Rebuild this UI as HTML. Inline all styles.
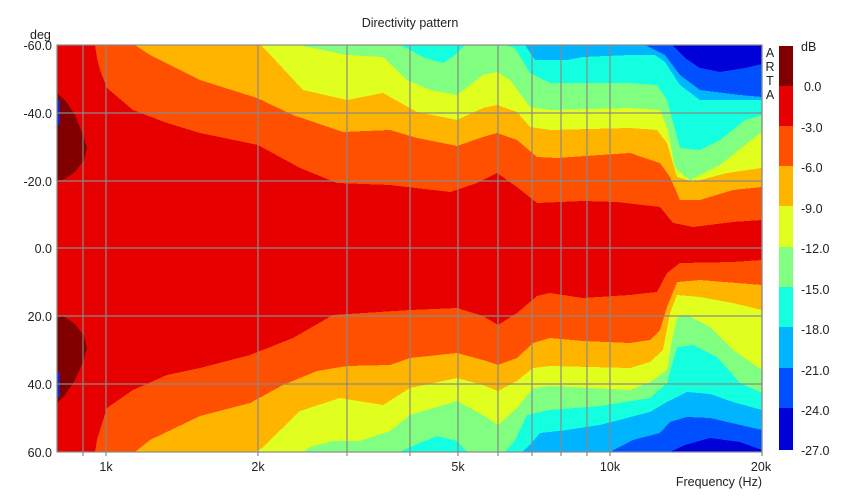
<!DOCTYPE html>
<html><head><meta charset="utf-8"><style>
body{margin:0;background:#fff;width:850px;height:497px;overflow:hidden}
text{font-family:"Liberation Sans",sans-serif;font-size:12.5px;fill:#222}
</style></head><body>
<svg width="850" height="497" xmlns="http://www.w3.org/2000/svg">
<defs><clipPath id="c"><rect x="57" y="45" width="705" height="407"/></clipPath></defs>
<g clip-path="url(#c)" shape-rendering="crispEdges">
<rect x="57" y="45" width="705" height="407" fill="#0000d8"/>
<polygon fill="#0050ff" points="57,45 672,45 685,58 700,68 720,72 745,68 762,64 762,450 740,442 710,438 685,445 670,452 57,452"/>
<polygon fill="#00b4ff" points="57,45 645,45 665,55 680,75 700,90 740,95 762,97 762,430 710,418 687,417 670,422 660,433 633,440 610,452 57,452"/>
<polygon fill="#14ffe0" points="57,45 525,45 535,60 567,60 583,57 630,55 655,55 665,62 680,85 700,100 762,100 762,410 733,402 710,394 687,392 667,402 650,412 600,425 567,430 540,433 530,445 522,452 57,452"/>
<polygon fill="#80ff80" points="57,45 400,45 410,50 425,58 443,63 455,55 465,45 505,45 515,48 530,73 550,83 630,83 657,85 667,100 680,148 700,150 720,140 745,120 762,115 762,393 740,383 717,357 693,345 677,347 667,383 650,398 600,406 550,410 527,415 515,440 505,452 467,452 457,441 437,436 410,447 400,452 57,452"/>
<polygon fill="#e0ff1e" points="57,45 300,45 307,47 347,55 383,57 407,80 430,90 457,95 483,75 497,72 510,80 530,107 550,110 630,108 660,110 668,130 675,168 690,180 720,165 745,145 762,132 762,370 733,350 710,327 687,315 677,318 672,340 667,370 650,382 630,390 550,386 533,388 517,408 498,425 483,415 457,401 410,415 390,431 360,441 333,441 310,447 303,452 57,452"/>
<polygon fill="#ffb400" points="57,45 260,45 263,47 303,90 347,100 383,93 417,112 457,120 483,108 497,105 517,112 530,127 550,130 630,128 657,130 667,143 677,177 693,182 727,173 762,168 762,310 733,303 700,297 677,295 670,313 663,350 650,362 630,368 550,366 533,368 517,381 498,391 483,385 457,378 410,388 383,405 340,398 300,411 262,448 255,452 57,452"/>
<polygon fill="#ff5000" points="57,45 135,45 150,55 200,80 257,98 293,115 343,132 390,130 417,138 457,146 483,137 497,133 517,140 537,157 557,158 600,155 630,153 660,163 670,177 680,200 700,200 733,190 762,187 762,285 700,280 677,282 667,307 660,330 650,340 630,343 583,341 550,338 533,343 517,358 498,365 483,360 457,353 410,358 390,365 347,366 317,371 283,385 250,403 200,416 150,440 135,452 57,452"/>
<polygon fill="#e60000" points="57,45 95,45 97,58 100,70 107,88 133,110 167,123 200,133 258,145 300,168 337,183 390,185 450,192 477,183 497,173 517,187 537,203 583,201 617,202 660,207 673,223 693,227 733,222 762,220 762,260 733,262 680,263 667,273 657,292 630,295 583,298 550,293 537,296 517,313 498,325 483,316 457,308 410,310 333,315 293,338 250,355 200,368 167,375 133,390 107,408 100,430 97,440 95,452 57,452"/>
<polygon fill="#800000" points="57,93 65,100 75,115 83,135 87,148 84,160 75,172 65,179 57,181"/>
<polygon fill="#800000" points="57,315 65,317 75,324 84,336 87,348 83,362 75,380 65,395 57,403"/>
<rect x="57" y="100" width="3" height="25" fill="#2020c0"/>
<rect x="57" y="372" width="3" height="25" fill="#2020c0"/>
</g>
<g stroke="#8a8a8a" stroke-width="1.2" fill="none">
<path d="M57,113H762M57,181H762M57,248H762M57,316H762M57,384H762"/>
<path d="M83,45V456M106,45V456M258,45V456M347,45V456M410,45V456M458,45V456M498,45V456M532,45V456M561,45V456M587,45V456M610,45V456M762,45V456"/>
<rect x="57" y="45" width="705" height="407"/>
</g>
<text x="410" y="27" text-anchor="middle">Directivity pattern</text>
<text x="30" y="39">deg</text>
<g text-anchor="end">
<text x="52" y="50">-60.0</text>
<text x="52" y="118">-40.0</text>
<text x="52" y="186">-20.0</text>
<text x="52" y="253">0.0</text>
<text x="52" y="321">20.0</text>
<text x="52" y="389">40.0</text>
<text x="52" y="457">60.0</text>
</g>
<g text-anchor="middle">
<text x="106" y="471">1k</text>
<text x="258" y="471">2k</text>
<text x="458" y="471">5k</text>
<text x="610" y="471">10k</text>
<text x="761" y="471">20k</text>
<text x="770" y="57">A</text>
<text x="770" y="71">R</text>
<text x="770" y="85">T</text>
<text x="770" y="99">A</text>
</g>
<text x="762" y="486" text-anchor="end">Frequency (Hz)</text>
<g shape-rendering="crispEdges">
<rect x="779" y="46" width="14" height="41" fill="#800000"/>
<rect x="779" y="86" width="14" height="41" fill="#e60000"/>
<rect x="779" y="126" width="14" height="41" fill="#ff5000"/>
<rect x="779" y="166" width="14" height="41" fill="#ffb400"/>
<rect x="779" y="206" width="14" height="41" fill="#e0ff1e"/>
<rect x="779" y="247" width="14" height="41" fill="#80ff80"/>
<rect x="779" y="287" width="14" height="41" fill="#14ffe0"/>
<rect x="779" y="327" width="14" height="41" fill="#00b4ff"/>
<rect x="779" y="368" width="14" height="41" fill="#0050ff"/>
<rect x="779" y="408" width="14" height="42" fill="#0000d8"/>
</g>
<text x="801" y="51">dB</text>
<text x="804" y="91">0.0</text>
<text x="801" y="132">-3.0</text>
<text x="801" y="172">-6.0</text>
<text x="801" y="213">-9.0</text>
<text x="801" y="253">-12.0</text>
<text x="801" y="294">-15.0</text>
<text x="801" y="334">-18.0</text>
<text x="801" y="375">-21.0</text>
<text x="801" y="415">-24.0</text>
<text x="801" y="455">-27.0</text>
</svg>
</body></html>
